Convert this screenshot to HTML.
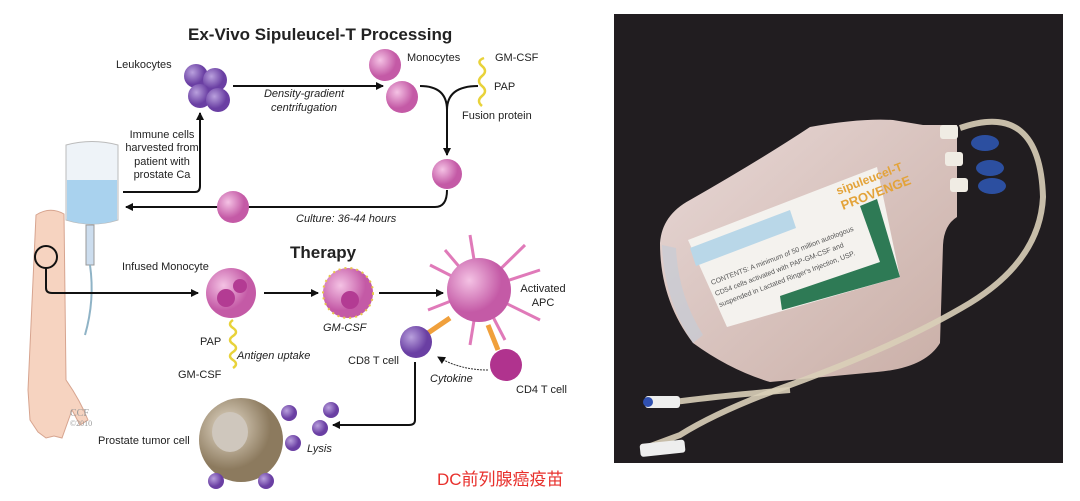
<!DOCTYPE html>
<html><head><meta charset="utf-8"><style>
body{margin:0;width:1080px;height:501px;background:#fff;overflow:hidden;font-family:"Liberation Sans",Arial,sans-serif}
svg{position:absolute;left:0;top:0}
.t{font-family:"Liberation Sans",Arial,sans-serif;fill:#222;font-size:11px}
.i{font-style:italic}
.h{font-size:17px;font-weight:bold}
</style></head><body>
<svg width="1080" height="501" viewBox="0 0 1080 501">
<defs>
<marker id="a" markerWidth="8" markerHeight="8" refX="7" refY="4" orient="auto" markerUnits="userSpaceOnUse"><path d="M0,0 L8,4 L0,8 z" fill="#111"/></marker>
<radialGradient id="pu" cx="35%" cy="35%"><stop offset="0" stop-color="#b9a0dd"/><stop offset="1" stop-color="#6a3fa3"/></radialGradient>
<radialGradient id="pk" cx="35%" cy="35%"><stop offset="0" stop-color="#f4c2e4"/><stop offset="1" stop-color="#c45aa6"/></radialGradient>
<radialGradient id="tu" cx="35%" cy="35%"><stop offset="0" stop-color="#e6dccb"/><stop offset="1" stop-color="#8c7a5e"/></radialGradient>
<linearGradient id="bag" x1="0" y1="0" x2="1" y2="1"><stop offset="0" stop-color="#e8d8d6"/><stop offset="1" stop-color="#c9aea6"/></linearGradient>
</defs>

<text x="188" y="40" class="t h">Ex-Vivo Sipuleucel-T Processing</text>

<circle cx="196" cy="76" r="12" fill="url(#pu)"/><circle cx="215" cy="80" r="12" fill="url(#pu)"/>
<circle cx="200" cy="96" r="12" fill="url(#pu)"/><circle cx="218" cy="100" r="12" fill="url(#pu)"/>
<text x="116" y="68" class="t">Leukocytes</text>

<line x1="233" y1="86" x2="383" y2="86" stroke="#111" stroke-width="2" marker-end="url(#a)"/>
<text x="304" y="97" class="t i" text-anchor="middle">Density-gradient</text>
<text x="304" y="111" class="t i" text-anchor="middle">centrifugation</text>

<circle cx="385" cy="65" r="16" fill="url(#pk)"/><circle cx="402" cy="97" r="16" fill="url(#pk)"/>
<text x="407" y="61" class="t">Monocytes</text>
<text x="495" y="61" class="t">GM-CSF</text>
<text x="494" y="90" class="t">PAP</text>
<text x="462" y="119" class="t">Fusion protein</text>
<path d="M484,58 q-8,3 -2,8 q6,5 0,10 q-6,5 0,10 q6,5 0,10 q-6,5 0,10" stroke="#e8d23a" stroke-width="2.5" fill="none"/>

<path d="M420,86 Q447,86 447,110 V155" stroke="#111" stroke-width="2" fill="none" marker-end="url(#a)"/>
<path d="M478,86 Q447,86 447,110" stroke="#111" stroke-width="2" fill="none"/>
<circle cx="447" cy="174" r="15" fill="url(#pk)"/>
<path d="M447,190 Q447,207 435,207 H126" stroke="#111" stroke-width="2" fill="none" marker-end="url(#a)"/>
<circle cx="233" cy="207" r="16" fill="url(#pk)"/>
<text x="296" y="222" class="t i">Culture: 36-44 hours</text>

<path d="M66,145 Q92,138 118,145 V220 Q92,228 66,220 Z" fill="#eef3f8" stroke="#bbb"/>
<path d="M67,180 H117 V220 Q92,228 67,220 Z" fill="#a9d2ee"/>
<rect x="86" y="225" width="8" height="40" fill="#cde" stroke="#999"/>
<path d="M123,192 H195 Q200,192 200,186 V113" stroke="#111" stroke-width="2" fill="none" marker-end="url(#a)"/>
<text class="t" text-anchor="middle" font-size="10.5"><tspan x="162" y="138">Immune cells</tspan><tspan x="162" y="151">harvested from</tspan><tspan x="162" y="165">patient with</tspan><tspan x="162" y="178">prostate Ca</tspan></text>

<path d="M36,215 Q50,206 64,214 L66,380 Q80,400 88,420 L80,425 L72,410 L62,438 L54,436 L46,438 L38,432 L30,420 L28,390 Z" fill="#f6d3c0" stroke="#d7a48f"/>
<path d="M90,265 Q95,300 85,335" stroke="#8fb3c6" stroke-width="2" fill="none"/>
<circle cx="46" cy="257" r="11" fill="none" stroke="#111" stroke-width="2"/>
<text x="70" y="416" font-family="Liberation Serif" font-size="10" fill="#999">CCF</text>
<text x="70" y="426" font-family="Liberation Serif" font-size="8" fill="#999">©2010</text>

<text x="290" y="258" class="t h">Therapy</text>
<text x="122" y="270" class="t">Infused Monocyte</text>
<path d="M46,268 V288 Q46,293 52,293 H198" stroke="#111" stroke-width="2" fill="none" marker-end="url(#a)"/>
<circle cx="231" cy="293" r="25" fill="url(#pk)"/>
<circle cx="226" cy="298" r="9" fill="#b33b93"/><circle cx="240" cy="286" r="7" fill="#b33b93"/>
<line x1="264" y1="293" x2="318" y2="293" stroke="#111" stroke-width="2" marker-end="url(#a)"/>
<circle cx="348" cy="293" r="25" fill="url(#pk)" stroke="#e8c64a" stroke-dasharray="2 4" stroke-width="2"/>
<circle cx="350" cy="300" r="9" fill="#b33b93"/>
<text x="323" y="331" class="t i">GM-CSF</text>
<line x1="379" y1="293" x2="443" y2="293" stroke="#111" stroke-width="2" marker-end="url(#a)"/>
<g stroke="#e07ab9" stroke-width="3">
<line x1="479" y1="290" x2="430" y2="265"/><line x1="479" y1="290" x2="470" y2="235"/><line x1="479" y1="290" x2="525" y2="245"/><line x1="479" y1="290" x2="540" y2="270"/><line x1="479" y1="290" x2="540" y2="320"/><line x1="479" y1="290" x2="505" y2="340"/><line x1="479" y1="290" x2="470" y2="345"/><line x1="479" y1="290" x2="428" y2="310"/><line x1="479" y1="290" x2="445" y2="250"/></g>
<circle cx="479" cy="290" r="32" fill="url(#pk)"/>
<text x="543" y="292" class="t" text-anchor="middle">Activated</text>
<text x="543" y="306" class="t" text-anchor="middle">APC</text>
<line x1="425" y1="335" x2="450" y2="318" stroke="#f0a03c" stroke-width="5"/>
<line x1="498" y1="350" x2="488" y2="325" stroke="#f0a03c" stroke-width="5"/>
<circle cx="416" cy="342" r="16" fill="url(#pu)"/>
<circle cx="506" cy="365" r="16" fill="#b0338e"/>
<text x="348" y="364" class="t">CD8 T cell</text>
<text x="516" y="393" class="t">CD4 T cell</text>
<text x="430" y="382" class="t i">Cytokine</text>
<path d="M488,370 Q460,370 438,357" stroke="#333" stroke-width="1" fill="none" marker-end="url(#a)" stroke-dasharray="2 1"/>
<text x="200" y="345" class="t">PAP</text>
<text x="237" y="359" class="t i">Antigen uptake</text>
<text x="178" y="378" class="t">GM-CSF</text>
<path d="M233,320 q-6,4 0,8 q6,4 0,8 q-6,4 0,8 q6,4 0,8 q-6,4 0,8 q6,4 0,8" stroke="#e8d23a" stroke-width="2.5" fill="none"/>
<path d="M415,362 V420 Q415,425 409,425 H333" stroke="#111" stroke-width="2" fill="none" marker-end="url(#a)"/>
<circle cx="241" cy="440" r="42" fill="url(#tu)"/>
<ellipse cx="230" cy="432" rx="18" ry="20" fill="#cfc7bd"/>
<text x="98" y="444" class="t">Prostate tumor cell</text>
<g fill="url(#pu)"><circle cx="289" cy="413" r="8"/><circle cx="331" cy="410" r="8"/><circle cx="320" cy="428" r="8"/><circle cx="293" cy="443" r="8"/><circle cx="216" cy="481" r="8"/><circle cx="266" cy="481" r="8"/></g>
<text x="307" y="452" class="t i">Lysis</text>

<text x="437" y="485" font-family="'Liberation Sans','Noto Sans CJK SC',sans-serif" font-size="17" fill="#e8302c">DC前列腺癌疫苗</text>

<!-- PHOTO -->
<rect x="614" y="14" width="449" height="449" fill="#211d20"/>
<path d="M660,243 Q662,215 690,200 Q760,160 810,127 Q860,118 893,120 L923,125 L957,125 L957,217 Q944,225 943,245 L940,343 Q925,368 877,372 L770,382 Q730,370 693,343 Q660,300 660,243 Z" fill="url(#bag)"/>
<path d="M662,245 Q664,300 693,343 L703,335 Q678,295 676,248 Z" fill="#c6ccd6" opacity="0.7"/>
<polygon points="688,240 877,167 900,277 727,327" fill="#f4f2ee"/>
<polygon points="860,206 877,199 900,277 782,310 780,296 880,262" fill="#2e7a55"/>
<polygon points="690,248 790,210 796,228 696,266" fill="#b9d7e8"/>
<text transform="translate(838,195) rotate(-21)" font-size="12" fill="#e3a33a" font-weight="bold">sipuleucel-T</text>
<text transform="translate(843,210) rotate(-21)" font-size="13" fill="#e3a33a" font-weight="bold">PROVENGE</text>
<text transform="translate(712,285) rotate(-21)" font-size="7" fill="#555">CONTENTS: A minimum of 50 million autologous</text>
<text transform="translate(716,296) rotate(-21)" font-size="7" fill="#555">CD54 cells activated with PAP-GM-CSF and</text>
<text transform="translate(720,307) rotate(-21)" font-size="7" fill="#555">suspended in Lactated Ringer's Injection, USP.</text>
<g fill="#2c4fa0"><ellipse cx="985" cy="143" rx="14" ry="8"/><ellipse cx="990" cy="168" rx="14" ry="8"/><ellipse cx="992" cy="186" rx="14" ry="8"/></g>
<g fill="#f0ece4"><rect x="940" y="125" width="18" height="14" rx="3"/><rect x="945" y="152" width="18" height="14" rx="3"/><rect x="950" y="178" width="18" height="14" rx="3"/></g>
<path d="M960,128 Q1040,100 1043,197 Q1040,260 970,303 Q900,345 790,385 Q720,410 680,435 L645,448" stroke="#d9cfb8" stroke-width="6" fill="none" opacity="0.9"/>
<path d="M790,390 Q730,395 690,400 L650,405" stroke="#d9cfb8" stroke-width="6" fill="none" opacity="0.9"/>
<rect x="645" y="396" width="35" height="12" rx="3" fill="#eee"/>
<rect x="640" y="442" width="45" height="13" rx="3" fill="#eee" transform="rotate(-6 660 448)"/>
<circle cx="648" cy="402" r="5" fill="#3050b0"/>
</svg>
</body></html>
